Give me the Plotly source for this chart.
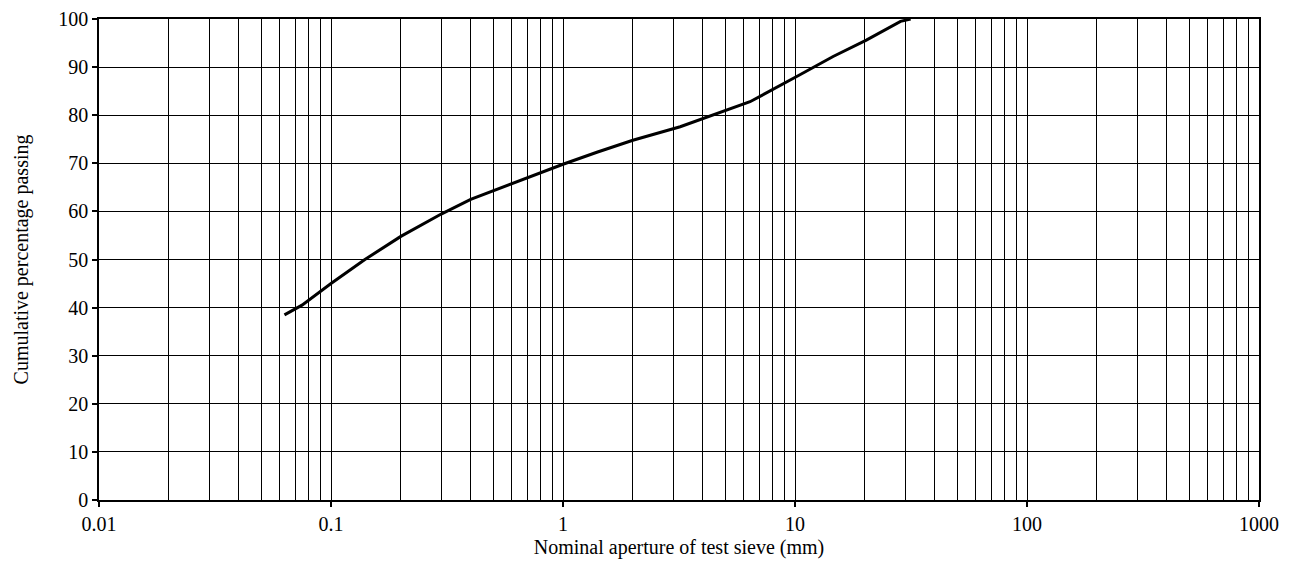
import plotly.graph_objects as go

# Sieve aperture (mm) and cumulative percentage passing
aperture_mm = [0.063, 0.075, 0.1, 0.14, 0.2, 0.3, 0.4, 0.63, 1.0, 1.4, 2.0, 3.2, 4.2, 6.4, 10.5, 14.6, 20.3, 28.5, 31.5]
percent_passing = [38.5, 40.5, 45.0, 50.0, 54.8, 59.5, 62.5, 66.2, 69.8, 72.3, 74.8, 77.6, 79.7, 82.8, 88.4, 92.2, 95.6, 99.5, 100.0]

x_tick_vals = [0.01, 0.1, 1, 10, 100, 1000]
x_tick_text = ["0.01", "0.1", "1", "10", "100", "1000"]
y_tick_vals = [0, 10, 20, 30, 40, 50, 60, 70, 80, 90, 100]

font_family = "Liberation Serif, Times New Roman, serif"

fig = go.Figure()
fig.add_trace(go.Scatter(
    x=aperture_mm, y=percent_passing, mode="lines",
    line=dict(color="black", width=3), showlegend=False, cliponaxis=False,
))

fig.update_layout(
    width=1289, height=571,
    margin=dict(l=99, r=30, t=19, b=71),
    paper_bgcolor="white", plot_bgcolor="white",
    font=dict(family=font_family, size=20, color="black"),
    xaxis=dict(
        type="log", range=[-2, 3], automargin=False,
        tickvals=x_tick_vals, ticktext=x_tick_text,
        ticks="outside", ticklen=5, tickcolor="black", tickwidth=1.5,
        showgrid=True, gridcolor="black", gridwidth=1,
        minor=dict(dtick="D1", showgrid=True, gridcolor="black", gridwidth=1, ticks=""),
        showline=True, linecolor="black", linewidth=1.5, mirror=True,
        zeroline=False,
        title=dict(text="Nominal aperture of test sieve (mm)", font=dict(size=20), standoff=6),
        tickfont=dict(size=20),
    ),
    yaxis=dict(
        range=[0, 100], tickvals=y_tick_vals, automargin=False,
        ticks="outside", ticklen=5, tickcolor="black", tickwidth=1.5,
        showgrid=True, gridcolor="black", gridwidth=1,
        showline=True, linecolor="black", linewidth=1.5, mirror=True,
        zeroline=False,
        title=dict(text="Cumulative percentage passing", font=dict(size=20), standoff=24),
        tickfont=dict(size=20),
    ),
)

fig.write_html(
    "out.html",
    config={"displayModeBar": False},
    post_script="document.body.style.margin='0';document.body.style.overflow='hidden';",
)
